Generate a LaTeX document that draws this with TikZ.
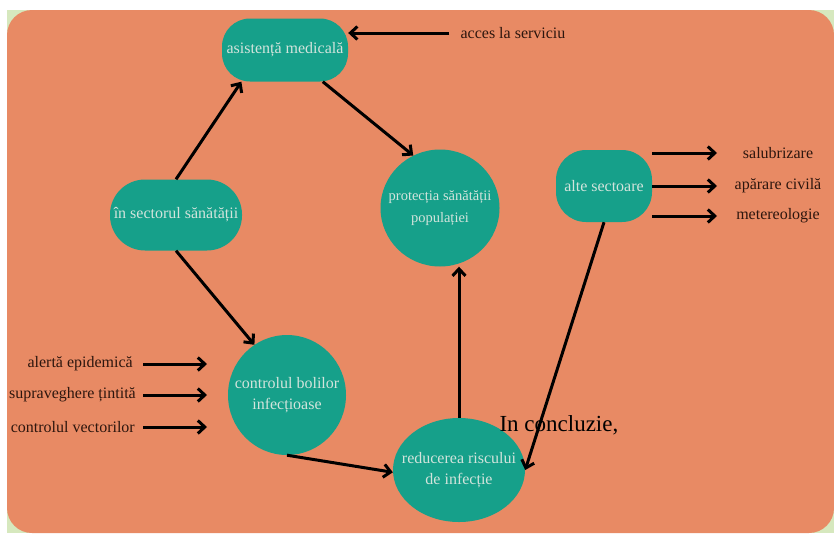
\documentclass[tikz,border=0pt]{standalone}
\usepackage{fontspec}
\setmainfont{Liberation Serif}
\usetikzlibrary{arrows.meta,shapes.geometric,positioning,calc}
\definecolor{salmonbg}{RGB}{232,138,100}
\definecolor{cornerbg}{RGB}{214,232,190}
\definecolor{boxgreen}{RGB}{22,160,138}
\definecolor{boxtext}{RGB}{210,228,220}
\definecolor{lbltext}{RGB}{45,22,14}
\begin{document}
\begin{tikzpicture}%
        [x=1pt, y=-1pt,
        box/.style={fill=boxgreen, text=boxtext, font=\fontsize{16}{21}\selectfont, align=center, inner sep=0pt},
        pill/.style={box, rectangle, rounded corners=#1},
        pill/.default=28pt,
        blob/.style={box, ellipse, inner xsep=-20pt, inner ysep=-10pt},
        lbl/.style={text=lbltext, font=\fontsize{16}{18}\selectfont, inner sep=1pt},
        arr/.style={line width=3pt, -{Straight Barb[length=7pt,width=13pt]}}]

    \useasboundingbox (0,0) rectangle (834,533);
    %% Background
    \fill[cornerbg] (7,10) rectangle (834,533);
    \fill[salmonbg, rounded corners=25pt] (7,10) rectangle (834,533);
    %%
    %% Drawing the boxes
    %%
    \node[pill, minimum width=126pt, minimum height=63pt] (asist) at (285,50) {asistență medicală};
    \node[pill=35pt, minimum width=132pt, minimum height=71pt] (sector) at (176,215) {în sectorul sănătății};
    \node[pill=30pt, minimum width=96pt, minimum height=72pt] (alte) at (604,186) {alte sectoare};
    \node[blob, font=\fontsize{14.5}{22}\selectfont, minimum width=119pt, minimum height=117pt] (protect) at (440,208) {protecția sănătății\\populației};
    \node[blob, minimum width=118pt, minimum height=120pt] (ctrl) at (287,395) {controlul bolilor\\infecțioase};
    \node[blob, minimum width=132pt, minimum height=104pt] (reduce) at (459,470) {reducerea riscului\\de infecție};
    %%
    %% Drawing the labels
    %%
    \node[lbl] (acces) at (513,33) {acces la serviciu};
    \node[lbl] (salub) at (778,153) {salubrizare};
    \node[lbl] (aparare) at (778,186) {apărare civilă};
    \node[lbl] (meteo) at (778,216) {metereologie};
    \node[lbl, anchor=east] (alerta) at (134,364) {alertă epidemică};
    \node[lbl, anchor=east] (suprav) at (137,395) {supraveghere țintită};
    \node[lbl, anchor=east] (vector) at (136,427) {controlul vectorilor};
    \node[text=black, font=\fontsize{23}{26}\selectfont, anchor=west] (concl) at (496,425) {In concluzie,};
    %%
    \coordinate (rtip) at (717,0);
    \coordinate (ltail) at (143,0);
    \coordinate (lhead) at (207,0);
    %%
    %% Drawing the arrows
    %%
    \draw[arr] (sector.north) -- (asist.216);
    \draw[arr] (asist.-40) -- (protect.117);
    \draw[arr] (sector.south) -- (ctrl.123);
    \draw[arr] (ctrl.south) -- (reduce.182);
    \draw[arr] (reduce.north) -- (reduce.north |- protect.south);
    \draw[arr] (alte.south) -- (reduce.east);
    \draw[arr] ([xshift=-10pt]acces.west) -- (acces.west -| asist.east);
    \draw[arr] (alte.east |- salub) -- (rtip |- salub);
    \draw[arr] (alte.east |- aparare) -- (rtip |- aparare);
    \draw[arr] (alte.east |- meteo) -- (rtip |- meteo);
    \draw[arr] (ltail |- alerta) -- (lhead |- alerta);
    \draw[arr] (ltail |- suprav) -- (lhead |- suprav);
    \draw[arr] (ltail |- vector) -- (lhead |- vector);
    %%
\end{tikzpicture}
\end{document}
